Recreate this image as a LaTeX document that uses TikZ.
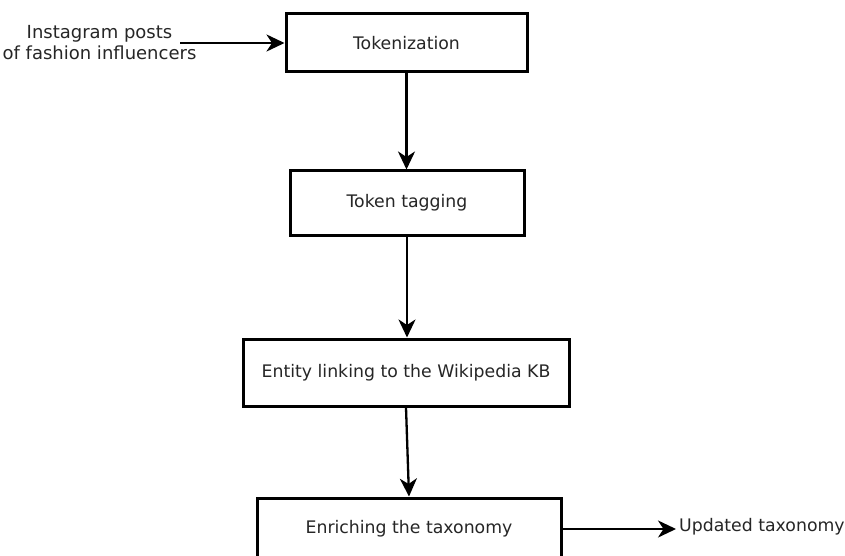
\documentclass[tikz,border=0pt]{standalone}
\usepackage{fontspec}
\setmainfont{DejaVu Sans}
\usetikzlibrary{arrows.meta}
\tikzset{
  stepbox/.style={draw=black, line width=3pt, fill=white, inner sep=0pt, align=center,
    font=\fontsize{17.3}{21}\selectfont, text=black!85},
  lbl/.style={inner sep=0pt, align=center, font=\fontsize{17.3}{21}\selectfont, text=black!85},
  flow/.style={line width=2.3pt, -{Stealth[length=18pt, width=17pt, inset=5.5pt]}}
}
\begin{document}
\begin{tikzpicture}[x=1pt, y=-1pt]
\useasboundingbox[fill=white] (0,0) rectangle (845,556);
\node[stepbox, minimum width=241pt, minimum height=58pt] (tok) at (406.5,43) {Tokenization};
\node[stepbox, minimum width=234pt, minimum height=64pt] (tag) at (407,203) {Token tagging};
\node[stepbox, minimum width=326pt, minimum height=67pt] (ent) at (406,372.5) {Entity linking to the Wikipedia KB};
\node[stepbox, minimum width=304pt, minimum height=62pt] (enr) at (409,529) {Enriching the taxonomy};
\node[lbl, font=\fontsize{18}{21}\selectfont] (inp) at (99.5,43) {Instagram posts\\of fashion influencers};
\coordinate (inpend) at (180,43);
\node[lbl, anchor=west] (out) at (679,527) {Updated taxonomy};
\coordinate (outend) at (676,529);
\draw[flow] (inpend) -- (tok.west);
\draw[flow] (tok.south) -- (tok.south |- tag.north);
\draw[flow] (tag.south) -- (tag.south |- ent.north);
\draw[flow] (ent.south) -- (enr.north);
\draw[flow] (enr.east) -- (outend);
\end{tikzpicture}
\end{document}
